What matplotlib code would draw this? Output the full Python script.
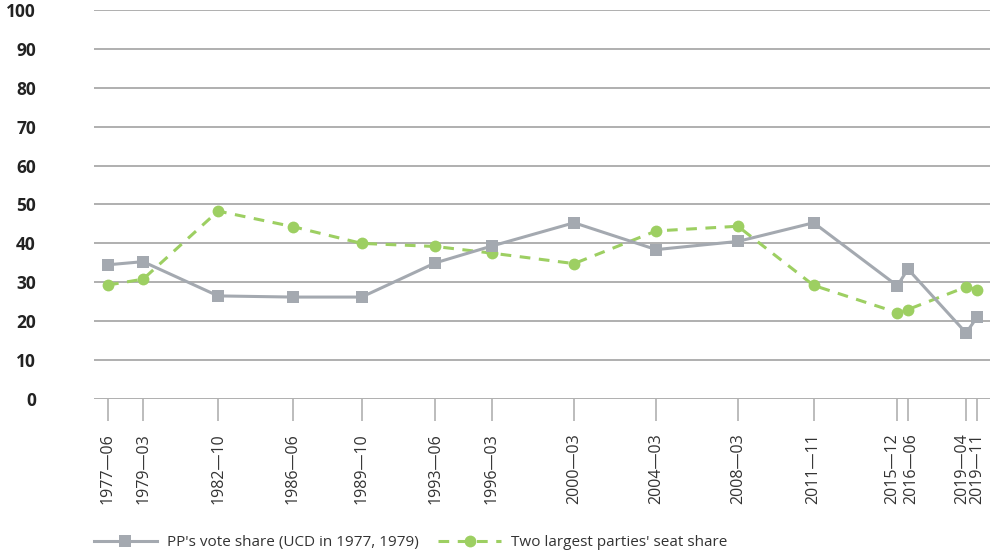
import matplotlib
matplotlib.use("Agg")
import matplotlib.pyplot as plt
import matplotlib.transforms as mtransforms
from datetime import datetime

plt.rcParams["font.family"] = ["Open Sans", "DejaVu Sans"]

elections = ["1977-06-15", "1979-03-01", "1982-10-28", "1986-06-22", "1989-10-29",
             "1993-06-06", "1996-03-03", "2000-03-12", "2004-03-14", "2008-03-09",
             "2011-11-20", "2015-12-20", "2016-06-26", "2019-04-28", "2019-11-10"]
pp_vote = [34.5, 35.3, 26.5, 26.2, 26.2, 35.0, 39.3, 45.3, 38.4, 40.5,
           45.3, 29.1, 33.4, 17.0, 21.0]
seat_share = [29.3, 30.8, 48.3, 44.3, 40.0, 39.2, 37.5, 34.8, 43.2, 44.4,
              29.2, 22.2, 23.0, 28.8, 28.1]
y_ticks = list(range(0, 101, 10))

GRAY = "#a4a9b0"
GREEN = "#9dcf62"
GRID = "#a9a9a9"

# small horizontal nudges (in pixels) so the close election labels don't collide
label_nudge = {"2015-12": -5, "2016-06": 3, "2019-04": -4}

dates = [datetime.strptime(d, "%Y-%m-%d") for d in elections]

fig = plt.figure(figsize=(9.92, 5.5), dpi=100)
ax = fig.add_axes([0.095, 0.2745, 0.903, 0.7075])

for y in y_ticks:
    ax.axhline(y, color=GRID, lw=1.3, zorder=1)

ax.plot(dates, seat_share, color=GREEN, lw=2.2, ls=(0, (3.5, 2.8)), marker="o",
        markersize=8.5, markeredgewidth=0, label="Two largest parties' seat share", zorder=3)
ax.plot(dates, pp_vote, color=GRAY, lw=2.2, marker="s", markersize=8.5,
        markeredgewidth=0, label="PP's vote share (UCD in 1977, 1979)", zorder=4)

ax.set_xlim(datetime(1976, 10, 12), datetime(2020, 6, 28))
ax.set_ylim(0, 100)
ax.set_yticks(y_ticks)
ax.set_yticklabels([str(v) for v in y_ticks], fontsize=12.5, fontweight="bold", color="#222222")
ax.tick_params(axis="y", length=0, pad=42)

ax.set_xticks(dates)
ax.set_xticklabels([d.strftime("%Y\u2014%m") for d in dates], rotation=90,
                   fontsize=11.5, color="#333333")
ax.tick_params(axis="x", length=16, width=1.1, color=GRID, pad=9)

for lbl, d in zip(ax.get_xticklabels(), dates):
    dx = label_nudge.get(d.strftime("%Y-%m"), 0)
    if dx:
        shift = mtransforms.ScaledTranslation(dx / 100, 0, fig.dpi_scale_trans)
        lbl.set_transform(lbl.get_transform() + shift)

for side in ["top", "right", "left", "bottom"]:
    ax.spines[side].set_visible(False)
ax.set_facecolor("none")

handles, labels = ax.get_legend_handles_labels()
fig.legend(handles[::-1], labels[::-1], loc="lower left", bbox_to_anchor=(0.081, -0.025),
           ncol=2, frameon=False, fontsize=11, handlelength=4.1, handletextpad=0.65,
           columnspacing=1.3, labelcolor="#333333")

fig.savefig("out.png", dpi=100)
